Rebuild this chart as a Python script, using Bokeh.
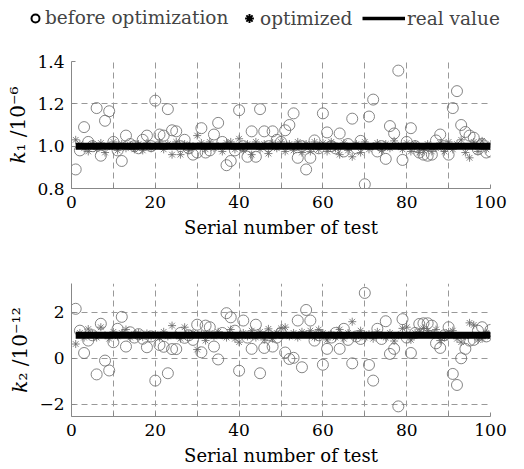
from bokeh.plotting import figure
from bokeh.models import Legend, LegendItem, FixedTicker, Range1d, ColumnDataSource
from bokeh.layouts import column
from bokeh.embed import file_html
from bokeh.resources import INLINE

FONT = "DejaVu Serif"

test_no = list(range(1, 101))

k1_before = [
    0.89, 0.98, 1.09, 1.02, 1.00, 1.18, 0.955, 1.12, 1.165, 1.02,
    0.98, 0.93, 1.05, 1.01, 1.00, 0.99, 1.03, 1.05, 1.00, 1.215,
    1.055, 1.05, 1.175, 1.075, 1.07, 1.00, 1.03, 0.99, 0.96, 0.97,
    1.085, 0.97, 0.98, 1.055, 1.11, 1.02, 0.91, 0.93, 0.98, 1.17,
    1.00, 0.95, 1.07, 0.95, 1.175, 1.07, 1.00, 1.07, 1.03, 1.02,
    1.075, 1.10, 1.155, 0.945, 1.00, 0.89, 0.945, 1.027, 0.99, 1.155,
    1.065, 1.00, 0.99, 1.06, 0.975, 1.01, 1.13, 0.99, 1.025, 0.82,
    1.14, 1.22, 0.975, 1.00, 0.94, 1.095, 1.06, 1.357, 0.935, 1.02,
    1.085, 1.00, 0.97, 0.96, 0.955, 0.96, 1.027, 1.055, 1.00, 0.96,
    1.18, 1.26, 1.10, 1.067, 1.05, 1.04, 0.985, 1.01, 0.97, 0.975,
]
k1_opt = [
    1.03, 1.01, 0.99, 0.975, 1.01, 0.985, 1.015, 0.97, 1.00, 1.02,
    0.98, 1.01, 0.99, 1.005, 0.985, 1.01, 0.98, 1.015, 0.99, 1.00,
    1.02, 0.985, 1.01, 0.96, 1.02, 0.96, 1.01, 0.98, 1.00, 1.05,
    1.015, 0.985, 1.02, 0.99, 1.00, 0.975, 1.015, 1.02, 0.985, 1.035,
    0.98, 1.01, 0.96, 1.02, 0.985, 1.01, 0.965, 1.015, 0.99, 1.02,
    0.975, 1.01, 0.98, 1.02, 0.97, 1.01, 0.975, 1.02, 0.985, 1.015,
    0.975, 1.02, 0.99, 0.96, 1.015, 0.98, 0.95, 1.01, 0.97, 1.02,
    0.985, 1.00, 1.015, 0.98, 1.01, 0.99, 1.025, 1.00, 0.985, 1.015,
    0.975, 1.01, 0.97, 0.98, 1.01, 0.975, 0.99, 1.015, 0.975, 1.02,
    0.985, 1.01, 1.03, 0.97, 0.945, 1.02, 0.975, 1.025, 0.985, 1.01,
]
k1_real = [1.0] * 100

k2_before = [
    2.15, 1.2, 0.23, 0.77, 1.0, -0.7, 1.5, -0.1, -0.53, 0.7,
    1.28, 1.8, 0.51, 1.13, 0.9, 1.05, 0.85, 0.48, 0.95, -0.97,
    0.58, 0.5, -0.65, 0.4, 0.4, 1.1, 0.89, 1.0, 0.8, 1.46,
    0.26, 1.42, 1.35, 0.51, -0.05, 1.1, 1.96, 1.78, 1.2, -0.54,
    1.64, 0.9, 0.41, 1.46, -0.65, 0.45, 1.0, 0.51, 0.9, 1.1,
    0.25, -0.03, 0.02, 1.64, -0.39, 2.1, 1.64, 0.77, 1.0, -0.28,
    0.41, 0.9, 1.1, 0.41, 1.28, 0.8, -0.22, 0.95, 0.84, 2.84,
    -0.29, -0.97, 1.28, 0.84, 1.61, 0.19, 0.41, -2.09, 1.70, 0.9,
    0.23, 1.1, 1.49, 1.52, 1.52, 1.42, 0.65, 0.45, 1.0, 1.35,
    -0.68, -1.16, 0.0, 0.41, 0.77, 0.8, 1.2, 1.35, 0.95, 1.23,
]
k2_opt = [
    0.62, 1.1, 0.9, 1.27, 1.05, 0.9, 1.35, 1.0, 0.85, 1.15,
    0.95, 1.1, 1.25, 0.9, 1.05, 1.1, 0.92, 1.08, 0.95, 1.05,
    0.9, 1.15, 0.95, 1.42, 1.0, 0.85, 1.35, 1.05, 1.1, 0.38,
    1.05, 0.77, 1.1, 0.95, 1.15, 1.0, 0.9, 1.25, 0.85, 0.7,
    1.1, 0.95, 1.2, 0.9, 1.15, 0.8, 1.28, 0.85, 1.1, 1.3,
    1.35, 0.95, 1.1, 0.9, 1.15, 1.05, 1.2, 0.9, 1.25, 1.1,
    0.8, 1.05, 0.9, 1.25, 0.85, 1.1, 1.59, 0.95, 1.2, 0.9,
    1.05, 0.85, 1.15, 1.0, 0.9, 1.1, 0.75, 1.0, 1.3, 1.35,
    0.8, 1.1, 1.15, 1.3, 1.2, 1.05, 1.25, 0.77, 0.9, 1.15,
    1.2, 0.85, 0.7, 0.95, 1.54, 1.45, 0.8, 0.85, 1.1, 0.95,
]
k2_real = [1.0] * 100

x_ticks = [0, 10, 20, 30, 40, 50, 60, 70, 80, 90, 100]
x_tick_labels = ["0", "", "20", "", "40", "", "60", "", "80", "", "100"]
k1_ticks = [0.8, 1.0, 1.2, 1.4]
k1_tick_labels = ["0.8", "1.0", "1.2", "1.4"]
k2_ticks = [-2, 0, 2]
k2_tick_labels = ["\u22122", "0", "2"]

legend_labels = ["before optimization", "optimized", "real value"]


def make_plot(before, opt, real, yr, yticks, ylabels, ylabel, height, top_b, bottom_b):
    p = figure(width=524, height=height, x_range=Range1d(0, 100),
               y_range=Range1d(*yr), output_backend="svg", toolbar_location=None,
               min_border_left=71, min_border_right=34,
               min_border_top=top_b, min_border_bottom=bottom_b)
    p.outline_line_color = None
    p.background_fill_color = "white"
    p.border_fill_color = "white"
    src = ColumnDataSource(dict(x=test_no, b=before, o=opt, r=real))
    p.scatter("x", "b", source=src, marker="circle", size=11,
              fill_color=None, line_color="#666666", line_width=0.8)
    p.scatter("x", "o", source=src, marker="asterisk", size=8,
              line_color="#666666", line_width=0.8)
    p.line("x", "r", source=src, line_color="black", line_width=7)

    p.xaxis.ticker = FixedTicker(ticks=x_ticks)
    p.xaxis.major_label_overrides = {t: s for t, s in zip(x_ticks, x_tick_labels)}
    p.yaxis.ticker = FixedTicker(ticks=yticks)
    p.yaxis.major_label_overrides = {t: s for t, s in zip(yticks, ylabels)}
    p.xgrid.ticker = FixedTicker(ticks=x_ticks)
    p.ygrid.ticker = FixedTicker(ticks=yticks)
    for g in (p.xgrid[0], p.ygrid[0]):
        g.grid_line_color = "#999999"
        g.grid_line_dash = "6 4"
        g.grid_line_width = 1
    for ax in (p.xaxis[0], p.yaxis[0]):
        ax.axis_line_color = "#888888"
        ax.major_tick_line_color = "#888888"
        ax.major_tick_in = 4
        ax.major_tick_out = 0
        ax.minor_tick_line_color = None
        ax.major_label_text_font = FONT
        ax.major_label_text_font_size = "17px"
        ax.major_label_text_color = "black"
        ax.axis_label_text_font = FONT
        ax.axis_label_text_font_style = "normal"
        ax.axis_label_text_color = "black"
    p.xaxis.axis_label = "Serial number of test"
    p.xaxis.axis_label_text_font_size = "18px"
    p.xaxis.major_label_standoff = 7
    p.xaxis.axis_label_standoff = 6
    p.yaxis.axis_label = ylabel
    p.yaxis.axis_label_text_font_size = "20px"
    p.yaxis.major_label_standoff = 7
    p.yaxis.axis_label_standoff = 4
    return p


# legend strip
lg = figure(width=524, height=30, x_range=(0, 1), y_range=(0, 1),
            output_backend="svg", toolbar_location=None,
            min_border=0, min_border_left=0, min_border_right=0,
            min_border_top=0, min_border_bottom=0)
if hasattr(lg, "frame_align"):
    lg.frame_align = False
lg.axis.visible = False
lg.grid.visible = False
lg.outline_line_color = None
hidden = ColumnDataSource(dict(x=[5], y=[5]))
r_c = lg.scatter("x", "y", source=hidden, marker="circle", size=8,
                 fill_color=None, line_color="black", line_width=2)
r_a = lg.scatter("x", "y", source=hidden, marker="asterisk", size=9,
                 line_color="black", line_width=2)
r_l = lg.line("x", "y", source=hidden, line_color="black", line_width=3.5)

for rend, lab, loc, gw, gh, so in ((r_c, legend_labels[0], (25, 2), 20, 20, -6),
                                   (r_a, legend_labels[1], (238, 1), 22, 22, 0),
                                   (r_l, legend_labels[2], (362, 1), 43, 22, 2)):
    L = Legend(items=[LegendItem(label=lab, renderers=[rend])], location=loc,
               orientation="horizontal", padding=0, margin=0,
               border_line_color=None, background_fill_alpha=0,
               label_text_font=FONT, label_text_font_size="18.5px",
               label_standoff=so, glyph_width=gw, glyph_height=gh,
               label_height=gh)
    lg.add_layout(L)

p1 = make_plot(k1_before, k1_opt, k1_real, (0.8, 1.4), k1_ticks, k1_tick_labels,
               "\U0001D458\u2081 /10\u207B\u2076", 240, 31, 82)
p2 = make_plot(k2_before, k2_opt, k2_real, (-2.53, 3.25), k2_ticks, k2_tick_labels,
               "\U0001D458\u2082 /10\u207B\u00B9\u00B2", 199, 13, 53)

layout = column(lg, p1, p2, spacing=0)
open("out.html", "w").write(file_html(layout, INLINE))
